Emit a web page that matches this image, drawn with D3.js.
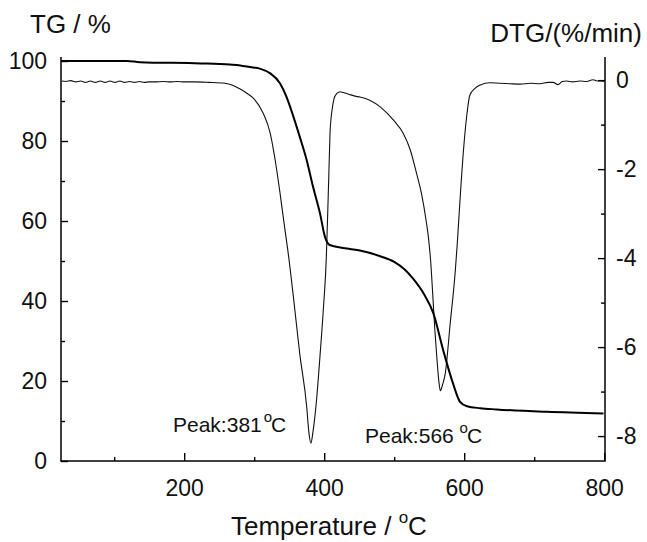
<!DOCTYPE html>
<html>
<head>
<meta charset="utf-8">
<script src="https://cdn.jsdelivr.net/npm/d3@7/dist/d3.min.js"></script>
<style>
  body { margin: 0; background: #fff; }
  svg { display: block; font-family: "Liberation Sans", Arial, sans-serif; }
</style>
</head>
<body>
<svg></svg>
<script>
// temperature (°C) and TG (%)
var tgTemp = [24, 118, 137, 223, 265, 280, 294, 308, 323, 337, 346, 356, 365, 375, 384, 394, 401, 408, 423, 437, 451, 480, 500, 515, 527, 542, 556, 570, 584, 594, 604, 623, 646, 718, 799]
var tgVal  = [100, 100, 99.7, 99.4, 99.1, 98.9, 98.5, 98.1, 96.9, 94.4, 91.1, 86.1, 81.1, 75.2, 68.6, 61.9, 56.1, 54, 53.4, 53, 52.6, 51.2, 49.8, 47.9, 45.6, 41.9, 36.9, 27.7, 19.4, 14.8, 13.7, 13.2, 12.9, 12.3, 11.9]

// temperature (°C) and DTG (%/min)
var dtgTemp = [25, 31, 38, 45, 52, 59, 66, 73, 80, 87, 94, 101, 108, 115, 122, 129, 136, 143, 150, 158, 170, 180, 190, 200, 215, 235, 258, 270, 280, 290, 299, 313, 323, 330, 337, 344, 348, 356, 365, 375, 378, 381, 384, 389, 394, 399, 403, 405, 406.5, 408.3, 411, 414, 418, 423, 427, 434, 444, 451, 465, 480, 499, 513, 523, 532, 539, 546, 549, 552, 555, 558, 561, 564, 566, 569, 573, 580, 587, 590, 594, 599, 604, 608, 615, 623, 637, 650, 665, 680, 695, 708, 720, 727, 734, 740, 746, 755, 765, 775, 784, 790, 796, 800]
var dtgVal  = [-0.02, -0.03, -0.01, -0.04, -0.02, -0.05, -0.02, -0.05, -0.02, -0.05, -0.02, -0.05, -0.02, -0.05, -0.03, -0.05, -0.03, -0.05, -0.04, -0.04, -0.03, -0.04, -0.03, -0.04, -0.04, -0.05, -0.07, -0.12, -0.2, -0.3, -0.41, -0.75, -1.2, -1.8, -2.55, -3.37, -3.82, -4.87, -6.14, -7.34, -7.9, -8.16, -7.9, -7.2, -6.2, -5.1, -4.0, -3.0, -2.2, -1.2, -0.7, -0.42, -0.3, -0.26, -0.28, -0.31, -0.36, -0.38, -0.45, -0.6, -0.9, -1.2, -1.57, -2.1, -2.55, -3.2, -3.55, -4.05, -4.8, -5.6, -6.25, -6.8, -6.98, -6.85, -6.59, -5.47, -4.34, -3.7, -2.7, -1.57, -0.75, -0.34, -0.19, -0.11, -0.06, -0.07, -0.08, -0.09, -0.07, -0.08, -0.05, -0.05, -0.1, -0.03, -0.02, -0.04, -0.02, -0.03, 0.01, -0.02, -0.02, -0.03]

var xTicks = [200, 400, 600, 800]
var xMinor = [100, 300, 500, 700]
var tgTicks = [0, 20, 40, 60, 80, 100]
var tgMinor = [10, 30, 50, 70, 90]
var dtgTicks = [0, -2, -4, -6, -8]
var dtgMinor = [-1, -3, -5, -7]

var screen = {width: 647, height: 542}
var svg = d3.select("svg")
    .attr("width", screen.width)
    .attr("height", screen.height)

var xScale = d3.scaleLinear().domain([24, 800]).range([61, 604.2])
var yLeft = d3.scaleLinear().domain([0, 100]).range([461, 61])
var yRight = d3.scaleLinear().domain([-8.56, 0.43]).range([461, 61])

var tickFont = 23

// minor ticks first (no labels)
svg.append("g").attr("transform", "translate(0,461)")
    .call(d3.axisBottom(xScale).tickValues(xMinor).tickSize(-4).tickFormat(""))
svg.append("g").attr("transform", "translate(61,0)")
    .call(d3.axisLeft(yLeft).tickValues(tgMinor).tickSize(-4).tickFormat(""))
svg.append("g").attr("transform", "translate(605,0)")
    .call(d3.axisRight(yRight).tickValues(dtgMinor).tickSize(-4).tickFormat(""))

var xAxis = svg.append("g").attr("transform", "translate(0,461)")
    .call(d3.axisBottom(xScale).tickValues(xTicks).tickSize(-8).tickPadding(19))
var lAxis = svg.append("g").attr("transform", "translate(61,0)")
    .call(d3.axisLeft(yLeft).tickValues(tgTicks).tickSize(-7).tickPadding(14))
var rAxis = svg.append("g").attr("transform", "translate(605,0)")
    .call(d3.axisRight(yRight).tickValues(dtgTicks).tickSize(-7).tickPadding(11)
        .tickFormat(function(d){ return d == 0 ? "0" : String(d).replace("\u2212", "-") }))

svg.selectAll(".domain").remove()
svg.selectAll(".tick line").attr("stroke", "#000").attr("stroke-width", 1.4)
svg.selectAll(".tick text")
    .attr("fill", "#111")
    .style("font-size", tickFont + "px")
    .style("font-family", "'Liberation Sans', Arial, sans-serif")

// axis lines
svg.append("line").attr("x1", 61).attr("x2", 61).attr("y1", 57).attr("y2", 461)
    .attr("stroke", "#000").attr("stroke-width", 1.5)
svg.append("line").attr("x1", 605).attr("x2", 605).attr("y1", 57).attr("y2", 461)
    .attr("stroke", "#000").attr("stroke-width", 1.5)
svg.append("line").attr("x1", 60.25).attr("x2", 605.75).attr("y1", 461).attr("y2", 461)
    .attr("stroke", "#000").attr("stroke-width", 1.5)

// curves
var tgPoints = tgTemp.map(function(t, i){ return {x: t, y: tgVal[i]} })
var dtgPoints = dtgTemp.map(function(t, i){ return {x: t, y: dtgVal[i]} })

var tgLine = d3.line()
    .x(function(p){ return xScale(p.x) })
    .y(function(p){ return yLeft(p.y) })
    .curve(d3.curveMonotoneX)
var dtgLine = d3.line()
    .x(function(p){ return xScale(p.x) })
    .y(function(p){ return yRight(p.y) })
    .curve(d3.curveMonotoneX)

svg.append("path").datum(dtgPoints).attr("d", dtgLine)
    .attr("fill", "none").attr("stroke", "#111").attr("stroke-width", 1.1)
svg.append("path").datum(tgPoints).attr("d", tgLine)
    .attr("fill", "none").attr("stroke", "#000").attr("stroke-width", 2)

// titles
var titleFont = 26
svg.append("text").attr("x", 30).attr("y", 33)
    .style("font-size", titleFont + "px").attr("fill", "#111").text("TG / %")
svg.append("text").attr("x", 642).attr("y", 42).attr("text-anchor", "end")
    .style("font-size", titleFont + "px").attr("fill", "#111").text("DTG/(%/min)")

var xt = svg.append("text").attr("x", 231).attr("y", 535)
    .style("font-size", titleFont + "px").attr("fill", "#111")
xt.append("tspan").text("Temperature / ")
xt.append("tspan").attr("dy", -12).style("font-size", "17px").text("o")
xt.append("tspan").attr("dy", 12).text("C")

// peak labels
var p1 = svg.append("text").attr("x", 173).attr("y", 432)
    .style("font-size", "21px").attr("fill", "#111")
p1.append("tspan").text("Peak:381")
p1.append("tspan").attr("dy", -10).attr("dx", 2).style("font-size", "15px").text("o")
p1.append("tspan").attr("dy", 10).attr("dx", -1).text("C")

var p2 = svg.append("text").attr("x", 365).attr("y", 443)
    .style("font-size", "21px").attr("fill", "#111")
p2.append("tspan").text("Peak:566 ")
p2.append("tspan").attr("dy", -10).style("font-size", "15px").text("o")
p2.append("tspan").attr("dy", 10).attr("dx", -1).text("C")
</script>
</body>
</html>
